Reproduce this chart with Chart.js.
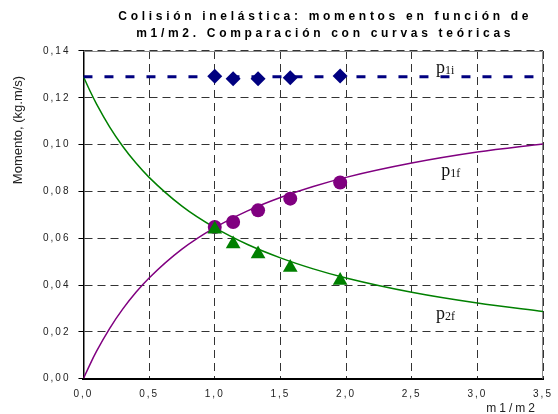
<!DOCTYPE html>
<html>
<head>
<meta charset="utf-8">
<script src="https://cdn.jsdelivr.net/npm/chart.js@4/dist/chart.umd.min.js"></script>
<style>
html,body{margin:0;padding:0;background:#fff;}
#wrap{width:558px;height:414px;}
</style>
</head>
<body>
<div id="wrap"><canvas id="c" width="558" height="414"></canvas></div>
<script>
// ---- Data ----
const xTheory   = [0, 0.05, 0.1, 0.2, 0.3, 0.4, 0.5, 0.75, 1.0, 1.25, 1.5, 1.75, 2.0, 2.5, 3.0, 3.5];
const p1fTheory = [0, 0.0061, 0.0117, 0.0215, 0.0298, 0.0369, 0.0430, 0.0553, 0.0645, 0.0717, 0.0774, 0.0821, 0.0860, 0.0921, 0.0968, 0.1003];
const p2fTheory = [0.129, 0.1229, 0.1173, 0.1075, 0.0992, 0.0921, 0.0860, 0.0737, 0.0645, 0.0573, 0.0516, 0.0469, 0.0430, 0.0369, 0.0323, 0.0287];
const xP1iTheory = [0, 3.5];
const p1iTheory  = [0.129, 0.129];

const xMeasured   = [1.00, 1.14, 1.33, 1.575, 1.955];
const p1iMeasured = [0.1292, 0.1281, 0.1281, 0.1286, 0.1293];
const p1fMeasured = [0.0648, 0.0669, 0.0719, 0.0769, 0.0838];
const p2fMeasured = [0.0638, 0.0575, 0.0533, 0.0475, 0.0419];

const xTickLabels = ['0,0', '0,5', '1,0', '1,5', '2,0', '2,5', '3,0', '3,5'];
const yTickLabels = ['0,00', '0,02', '0,04', '0,06', '0,08', '0,10', '0,12', '0,14'];

const titleLines = ['Colisión inelástica: momentos en función de', 'm1/m2. Comparación con curvas teóricas'];
const yTitle = 'Momento, (kg.m/s)';
const xTitle = 'm1/m2';
// curve labels: [main, subscript, x, y] in data units
const curveLabels = [
  ['p', '1i', 2.685, 0.1306],
  ['p', '1f', 2.725, 0.0866],
  ['p', '2f', 2.685, 0.0254]
];

const pts = (xs, ys) => xs.map((x, i) => ({x: x, y: ys[i]}));

const NAVY = '#000080', PURPLE = '#800080', GREEN = '#008000';

const helperPlugin = {
  id: 'helper',
  beforeUpdate(chart) { chart.ctx.letterSpacing = '2px'; },
  beforeDraw(chart) {
    chart.ctx.letterSpacing = '2px';
    const tb = chart.titleBlock;
    if (tb && !tb._wrapped) {
      const orig = tb.draw;
      tb.draw = function(...a) {
        const c = this.ctx; c.save(); c.letterSpacing = '3.7px'; c.translate(12, 0);
        orig.apply(this, a); c.restore();
      };
      tb._wrapped = true;
    }
    const xs = chart.scales.x;
    if (xs && !xs._wrapped) {
      const o = xs.drawTitle;
      xs.drawTitle = function(...a) {
        const c = this.ctx; c.save(); c.letterSpacing = '3px'; c.translate(-5, 0); o.apply(this, a); c.restore();
      };
      xs._wrapped = true;
    }
  },
  beforeDatasetsDraw(chart) {
    const {ctx, chartArea: a} = chart;
    ctx.save();
    ctx.strokeStyle = '#8a8a8a';
    ctx.lineWidth = 1;
    ctx.setLineDash([]);
    ctx.beginPath();
    ctx.moveTo(a.left, a.top + 0.5);
    ctx.lineTo(a.right - 0.5, a.top + 0.5);
    ctx.lineTo(a.right - 0.5, a.bottom);
    ctx.stroke();
    ctx.restore();
  },
  afterDraw(chart) {
    const {ctx, scales} = chart;
    ctx.save();
    ctx.letterSpacing = '0px';
    // y axis title
    ctx.fillStyle = '#222';
    ctx.font = '13px "Liberation Sans", Arial, sans-serif';
    ctx.textAlign = 'center';
    ctx.textBaseline = 'middle';
    ctx.translate(18, 130);
    ctx.rotate(-Math.PI / 2);
    ctx.fillText(yTitle, 0, 0);
    ctx.setTransform(1, 0, 0, 1, 0, 0);
    // curve labels
    ctx.fillStyle = '#111';
    ctx.textAlign = 'left';
    ctx.textBaseline = 'alphabetic';
    curveLabels.forEach(([m, s, x, y]) => {
      const px = scales.x.getPixelForValue(x);
      const py = scales.y.getPixelForValue(y);
      ctx.font = '18px "Liberation Serif", "Times New Roman", serif';
      ctx.fillText(m, px, py);
      const w = ctx.measureText(m).width;
      ctx.font = '12px "Liberation Serif", "Times New Roman", serif';
      ctx.fillText(s, px + w, py + 1);
    });
    ctx.restore();
  }
};

Chart.defaults.font.family = '"Liberation Sans", Arial, sans-serif';
Chart.defaults.color = '#222';

new Chart(document.getElementById('c'), {
  type: 'scatter',
  data: {
    datasets: [
      { label: 'p1i medido', data: pts(xMeasured, p1iMeasured), pointStyle: 'rectRot', pointRadius: 7.5,
        backgroundColor: NAVY, borderColor: NAVY, borderWidth: 0, showLine: false },
      { label: 'p2f medido', data: pts(xMeasured, p2fMeasured), pointStyle: 'triangle', pointRadius: 8.5,
        backgroundColor: GREEN, borderColor: GREEN, borderWidth: 0, showLine: false },
      { label: 'p1f medido', data: pts(xMeasured, p1fMeasured), pointStyle: 'circle', pointRadius: 7,
        backgroundColor: PURPLE, borderColor: PURPLE, borderWidth: 0, showLine: false },
      { label: 'p1i teórico', data: pts(xP1iTheory, p1iTheory), showLine: true, pointRadius: 0,
        borderColor: NAVY, borderWidth: 3, borderDash: [9, 12], fill: false },
      { label: 'p1f teórico', data: pts(xTheory, p1fTheory), showLine: true, pointRadius: 0,
        borderColor: PURPLE, borderWidth: 1.5, cubicInterpolationMode: 'monotone', fill: false },
      { label: 'p2f teórico', data: pts(xTheory, p2fTheory), showLine: true, pointRadius: 0,
        borderColor: GREEN, borderWidth: 1.5, cubicInterpolationMode: 'monotone', fill: false }
    ]
  },
  options: {
    responsive: false,
    animation: false,
    events: [],
    layout: { padding: { left: 35, right: 0, top: 0, bottom: 0 } },
    plugins: {
      legend: { display: false },
      tooltip: { enabled: false },
      title: {
        display: true,
        text: titleLines,
        fullSize: false,
        color: '#000',
        font: { size: 12, weight: 'bold', lineHeight: 1.4 },
        padding: { top: 8, bottom: 9.4 }
      }
    },
    scales: {
      x: {
        type: 'linear', min: 0, max: 3.5,
        afterFit: (s) => { s.paddingRight = 15; },
        ticks: { stepSize: 0.5, padding: 10, font: { size: 10 }, color: '#222',
                 callback: (v, i) => xTickLabels[i] },
        grid: { color: '#333', lineWidth: 1, drawTicks: false },
        border: { display: true, color: '#000', width: 2, dash: [8, 5] },
        title: { display: true, text: xTitle, align: 'end', color: '#222',
                 font: { size: 12 }, padding: { top: -9, bottom: -2 } }
      },
      y: {
        type: 'linear', min: 0, max: 0.14,
        ticks: { stepSize: 0.02, padding: 8, font: { size: 10 }, color: '#222',
                 callback: (v, i) => yTickLabels[i] },
        grid: { color: '#333', lineWidth: 1, drawTicks: true, tickLength: 5, tickColor: '#000', tickBorderDash: [] },
        border: { display: true, color: '#000', width: 1.5, dash: [8, 5] }
      }
    }
  },
  plugins: [helperPlugin]
});
</script>
</body>
</html>
